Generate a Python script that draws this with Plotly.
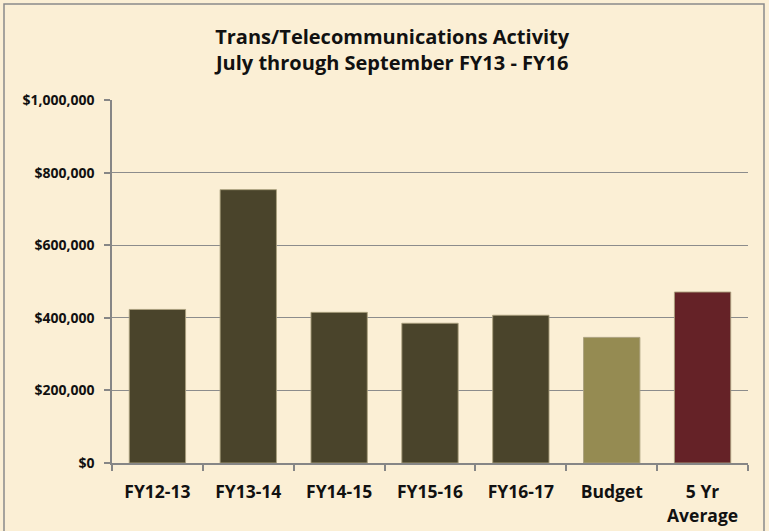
import plotly.graph_objects as go

categories = ["FY12-13", "FY13-14", "FY14-15", "FY15-16", "FY16-17", "Budget", "5 Yr Average"]
tick_labels = ["FY12-13", "FY13-14", "FY14-15", "FY15-16", "FY16-17", "Budget", "5 Yr<br>Average"]
values = [423000, 753000, 415000, 385000, 407000, 346000, 471000]
bar_colors = ["#4A442B", "#4A442B", "#4A442B", "#4A442B", "#4A442B", "#958B52", "#652227"]
y_ticks = [0, 200000, 400000, 600000, 800000, 1000000]
y_tick_labels = ["$0", "$200,000", "$400,000", "$600,000", "$800,000", "$1,000,000"]

FONT = "Open Sans"
BG = "#FBEFD5"

fig = go.Figure()
fig.add_trace(go.Bar(
    x=categories,
    y=values,
    marker=dict(color=bar_colors, line=dict(color="rgba(170,160,125,0.9)", width=1)),
    hoverinfo="x+y",
))

tick_text = ["<span style='font-size:17.5px'>%s</span>" % t.replace("<br>", "</span><br><span style='font-size:17.5px'>") for t in tick_labels]

fig.update_layout(
    width=769, height=531,
    paper_bgcolor=BG, plot_bgcolor=BG,
    margin=dict(l=112, r=21, t=100, b=68),
    bargap=0.38,
    showlegend=False,
    font=dict(family=FONT, color="#111111", weight="bold"),
    title=dict(
        text="Trans/Telecommunications Activity<br>July through September FY13 - FY16",
        font=dict(family=FONT, size=20, color="#111111", weight="bold"),
        x=0.51, xanchor="center", xref="container",
        y=0.918, yanchor="top", yref="container",
    ),
    xaxis=dict(
        tickmode="array", tickvals=categories, ticktext=tick_text,
        tickfont=dict(family=FONT, size=19, color="#111111", weight="bold"),
        showline=True, linecolor="#868686", linewidth=1.5,
        ticks="outside", ticklen=6, tickcolor="#868686", tickwidth=1.5,
        tickson="boundaries",
        showgrid=False,
        ticklabelstandoff=10,
        automargin=False,
    ),
    yaxis=dict(
        range=[0, 1000000],
        tickmode="array", tickvals=y_ticks, ticktext=y_tick_labels,
        tickfont=dict(family=FONT, size=14, color="#111111", weight="bold"),
        showline=True, linecolor="#868686", linewidth=1.5,
        ticks="outside", ticklen=6, tickcolor="#868686", tickwidth=1.5,
        showgrid=True, gridcolor="#8C8C8C", gridwidth=1.3,
        zeroline=False,
        ticklabelstandoff=7,
        automargin=False,
    ),
    shapes=[dict(
        type="rect", xref="paper", yref="paper",
        x0=(4 - 112) / 636, x1=(764 - 112) / 636,
        y0=-0.3, y1=(463 - 4) / 363,
        line=dict(color="#8A8A8A", width=1.5), fillcolor="rgba(0,0,0,0)", layer="below",
    )],
)

fig.write_html("out.html", config={"displayModeBar": False},
               post_script="document.body.style.margin='0';")
